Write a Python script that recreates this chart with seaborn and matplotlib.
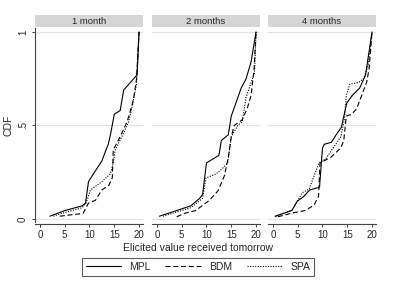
import pandas as pd
import matplotlib
matplotlib.use("Agg")
import matplotlib.pyplot as plt
import seaborn as sns
from matplotlib.patches import Rectangle
from matplotlib.lines import Line2D

panels = ["1 month", "2 months", "4 months"]
methods = ["MPL", "BDM", "SPA"]

# 1 month
mpl_1m_x = [2, 5, 8.5, 9.2, 9.8, 11.5, 12.5, 13.2, 13.8, 14.3, 15, 16.2, 16.9, 19.6, 20]
mpl_1m_y = [0.015, 0.045, 0.07, 0.085, 0.20, 0.27, 0.31, 0.36, 0.40, 0.46, 0.56, 0.58, 0.69, 0.77, 1.0]
bdm_1m_x = [4, 8.7, 9.8, 11.2, 12.5, 13.9, 14.6, 14.8, 16, 17.6, 18.6, 19, 19.5, 20]
bdm_1m_y = [0.015, 0.03, 0.085, 0.10, 0.155, 0.18, 0.22, 0.37, 0.43, 0.52, 0.61, 0.66, 0.75, 1.0]
spa_1m_x = [2.7, 5, 8.5, 9.3, 10.2, 12.5, 14.2, 14.8, 15.2, 16.9, 17.9, 18.6, 19.5, 20]
spa_1m_y = [0.015, 0.035, 0.06, 0.085, 0.155, 0.20, 0.24, 0.30, 0.37, 0.46, 0.52, 0.60, 0.72, 1.0]

# 2 months
mpl_2m_x = [0.5, 6.8, 8.6, 9.2, 10, 12.5, 13, 14.4, 15, 16.2, 17, 18, 19, 20]
mpl_2m_y = [0.015, 0.07, 0.11, 0.13, 0.30, 0.34, 0.42, 0.45, 0.55, 0.64, 0.70, 0.75, 0.84, 1.0]
bdm_2m_x = [4, 5.5, 7.8, 10.6, 12.3, 13.6, 14.4, 15, 15.6, 17.2, 18.2, 19, 19.6, 20]
bdm_2m_y = [0.012, 0.03, 0.045, 0.10, 0.15, 0.23, 0.33, 0.44, 0.50, 0.53, 0.59, 0.66, 0.80, 1.0]
spa_2m_x = [1.2, 6.8, 9.2, 9.9, 11.9, 13.2, 14.3, 15, 16.3, 17.2, 18, 19, 19.7, 20]
spa_2m_y = [0.015, 0.06, 0.11, 0.22, 0.24, 0.27, 0.30, 0.44, 0.50, 0.52, 0.65, 0.73, 0.78, 1.0]

# 4 months
mpl_4m_x = [0.4, 3.8, 4.9, 6.2, 7.4, 9.4, 10, 10.4, 11.8, 13, 13.8, 14.9, 16, 17.5, 18.7, 19.2, 20]
mpl_4m_y = [0.015, 0.045, 0.095, 0.12, 0.155, 0.17, 0.38, 0.40, 0.41, 0.46, 0.49, 0.62, 0.66, 0.70, 0.77, 0.86, 1.0]
bdm_4m_x = [1, 3.9, 6.6, 8.3, 9.2, 9.5, 11.7, 13.7, 14.3, 14.8, 15.9, 16.9, 17.9, 18.9, 19.4, 20]
bdm_4m_y = [0.012, 0.032, 0.046, 0.075, 0.12, 0.30, 0.33, 0.38, 0.42, 0.55, 0.56, 0.59, 0.66, 0.73, 0.80, 1.0]
spa_4m_x = [0.5, 3.9, 5.9, 7.3, 9.3, 10.6, 11.9, 13.7, 14.4, 14.8, 15.5, 17.3, 18.3, 19.2, 20]
spa_4m_y = [0.012, 0.05, 0.14, 0.16, 0.30, 0.32, 0.37, 0.44, 0.53, 0.66, 0.72, 0.73, 0.75, 0.82, 1.0]

series = {
    ("1 month", "MPL"): (mpl_1m_x, mpl_1m_y),
    ("1 month", "BDM"): (bdm_1m_x, bdm_1m_y),
    ("1 month", "SPA"): (spa_1m_x, spa_1m_y),
    ("2 months", "MPL"): (mpl_2m_x, mpl_2m_y),
    ("2 months", "BDM"): (bdm_2m_x, bdm_2m_y),
    ("2 months", "SPA"): (spa_2m_x, spa_2m_y),
    ("4 months", "MPL"): (mpl_4m_x, mpl_4m_y),
    ("4 months", "BDM"): (bdm_4m_x, bdm_4m_y),
    ("4 months", "SPA"): (spa_4m_x, spa_4m_y),
}

rows = []
for (horizon, method), (xs, ys) in series.items():
    for x, y in zip(xs, ys):
        rows.append({"horizon": horizon, "method": method, "value": x, "cdf": y})
df = pd.DataFrame(rows)

sns.set_style("white")
plt.rcParams["font.family"] = ["Liberation Sans", "DejaVu Sans"]

dashes = {"MPL": "", "BDM": (4.5, 2.5), "SPA": (1, 1.3)}
W, H = 393, 287
fig = plt.figure(figsize=(W / 100, H / 100), dpi=100)

lefts = [35, 152, 268]
top_px, bot_px = 28, 222
for i, (name, left) in enumerate(zip(panels, lefts)):
    ax = fig.add_axes([left / W, (H - bot_px) / H, 108 / W, (bot_px - top_px) / H])
    sub = df[df["horizon"] == name]
    sns.lineplot(data=sub, x="value", y="cdf", style="method", style_order=methods,
                 dashes=dashes, color="black", linewidth=0.8, sort=False,
                 estimator=None, legend=False, ax=ax)
    ax.set_xlim(-1.0, 20.8)
    ax.set_ylim(-0.016, 1.021)
    ax.set_xticks([0, 5, 10, 15, 20])
    ax.set_yticks([0, 0.5, 1])
    ax.grid(axis="y", color="#e3e3e3", linewidth=0.8)
    ax.grid(axis="x", visible=False)
    ax.set_xlabel("")
    ax.set_ylabel("")
    for s in ["top", "right"]:
        ax.spines[s].set_visible(False)
    ax.spines["bottom"].set_position(("outward", 1.5))
    ax.spines["bottom"].set_color("#444444")
    ax.spines["bottom"].set_linewidth(0.8)
    ax.tick_params(axis="x", direction="out", length=2.5, width=0.7, color="#444444",
                   labelsize=7, pad=2, bottom=True)
    if i == 0:
        ax.spines["left"].set_color("#444444")
        ax.spines["left"].set_linewidth(0.8)
        ax.set_yticklabels(["0", ".5", "1"], rotation=90, va="center")
        ax.tick_params(axis="y", direction="out", length=2.5, width=0.7, color="#444444",
                       labelsize=7, pad=2.5, left=True)
        ax.set_ylabel("CDF", fontsize=7.5, labelpad=3)
    else:
        ax.spines["left"].set_visible(False)
        ax.tick_params(axis="y", left=False, labelleft=False)
    # header strip
    sb = (bot_px - 27) / (bot_px - top_px)
    st = (bot_px - 15) / (bot_px - top_px)
    ax.add_patch(Rectangle((0, sb), 1, st - sb, transform=ax.transAxes,
                           facecolor="#d6d6d6", edgecolor="none", clip_on=False))
    ax.text(0.5, (sb + st) / 2, name, transform=ax.transAxes, ha="center", va="center",
            fontsize=6.8)

fig.text(198 / W, 1 - 248 / H, "Elicited value received tomorrow", ha="center",
         va="center", fontsize=7.5)

handles = [Line2D([], [], color="black", linewidth=0.8),
           Line2D([], [], color="black", linewidth=0.8, dashes=dashes["BDM"]),
           Line2D([], [], color="black", linewidth=0.8, dashes=dashes["SPA"])]
leg = fig.legend(handles, methods, loc="center", bbox_to_anchor=(198 / W, 1 - 267 / H),
                 ncol=3, fontsize=7.5, frameon=True, fancybox=False, handlelength=3.4,
                 handletextpad=0.8, columnspacing=1.4, borderpad=0.35)
leg.get_frame().set_edgecolor("#333333")
leg.get_frame().set_linewidth(0.8)

fig.savefig("out.png", dpi=100, facecolor="white")
